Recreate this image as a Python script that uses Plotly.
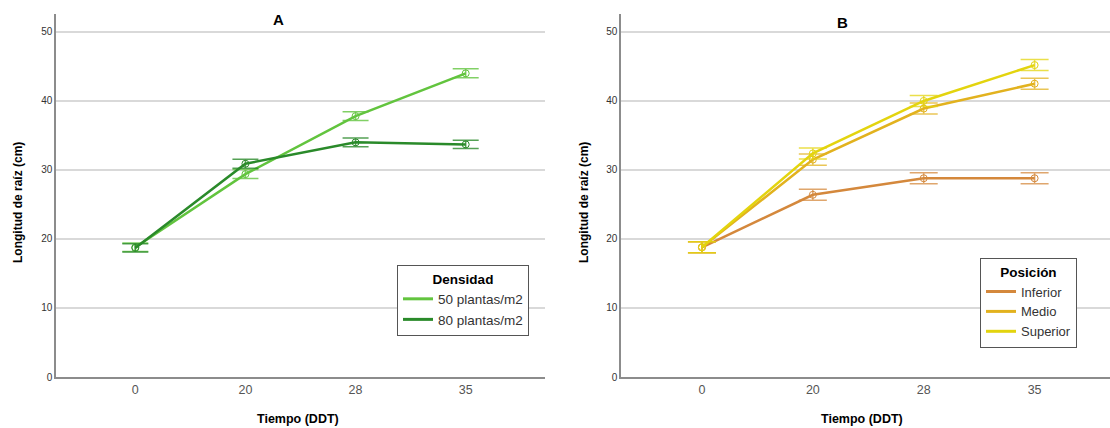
import plotly.graph_objects as go

categories = ["0", "20", "28", "35"]

# Panel A - Densidad
dens_names = ["50 plantas/m2", "80 plantas/m2"]
dens_means = [[18.8, 29.4, 37.8, 44.0], [18.7, 30.9, 34.0, 33.7]]
dens_err = [[0.6, 0.65, 0.65, 0.65], [0.6, 0.65, 0.65, 0.6]]
dens_colors = ["#62c43e", "#2a8a2a"]
dens_err_colors = ["rgba(98,196,62,0.8)", "rgba(42,138,42,0.8)"]

# Panel B - Posición
pos_names = ["Inferior", "Medio", "Superior"]
pos_means = [[18.8, 26.4, 28.8, 28.8], [18.8, 31.5, 38.9, 42.5], [18.8, 32.4, 40.0, 45.2]]
pos_err = [[0.8, 0.8, 0.8, 0.8], [0.8, 0.8, 0.8, 0.8], [0.8, 0.8, 0.8, 0.8]]
pos_colors = ["#d4883c", "#e2b21e", "#e3d40e"]
pos_err_colors = ["rgba(212,136,60,0.75)", "rgba(226,178,30,0.75)", "rgba(227,212,14,0.75)"]

W, H = 1110, 428
ML, MR, MT, MB = 40, 0, 6, 40
PW, PH = W - ML - MR, H - MT - MB


def fx(px):
    return (px - ML) / PW


def fy(py):
    return (H - MB - py) / PH


fig = go.Figure()

for i, (name, m, e, c, ec) in enumerate(zip(dens_names, dens_means, dens_err, dens_colors, dens_err_colors)):
    fig.add_trace(go.Scatter(
        x=categories, y=m, name=name, mode="lines+markers", showlegend=False,
        line=dict(color=c, width=2.5),
        marker=dict(symbol="circle-open", size=7, color=c, line=dict(width=1)),
        error_y=dict(type="data", array=e, color=ec, thickness=1.5, width=13),
        xaxis="x", yaxis="y",
    ))
    fig.add_trace(go.Scatter(
        x=[None], y=[None], name=name, mode="lines", showlegend=True,
        line=dict(color=c, width=3), xaxis="x", yaxis="y", legend="legend",
    ))

for i, (name, m, e, c, ec) in enumerate(zip(pos_names, pos_means, pos_err, pos_colors, pos_err_colors)):
    fig.add_trace(go.Scatter(
        x=categories, y=m, name=name, mode="lines+markers", showlegend=False,
        line=dict(color=c, width=2.5),
        marker=dict(symbol="circle-open", size=7, color=c, line=dict(width=1)),
        error_y=dict(type="data", array=e, color=ec, thickness=1.5, width=14),
        xaxis="x2", yaxis="y2",
    ))
    fig.add_trace(go.Scatter(
        x=[None], y=[None], name=name, mode="lines", showlegend=True,
        line=dict(color=c, width=3), xaxis="x2", yaxis="y2", legend="legend2",
    ))

ytop, ybot = 14, 377
yd = [fy(ybot), fy(ytop)]

axis_common_y = dict(
    range=[0, 52.6], tickvals=[0, 10, 20, 30, 40, 50],
    showgrid=True, gridcolor="#d9d9d9", gridwidth=1.5,
    showline=True, linecolor="#8c8c8c", linewidth=1.5,
    zeroline=False, ticks="", tickfont=dict(size=10, color="#333333"),
    domain=yd, fixedrange=True, automargin=False,
)
axis_common_x = dict(
    type="category", showgrid=False, zeroline=False,
    showline=True, linecolor="#8c8c8c", linewidth=1.5,
    ticks="", tickfont=dict(size=12.5, color="#555555"), automargin=False,
)


def ann(text, px, py, size, angle=0):
    return dict(text=text, x=fx(px), y=fy(py), xref="paper", yref="paper",
                xanchor="center", yanchor="middle", showarrow=False,
                textangle=angle, font=dict(size=size))


fig.update_layout(
    width=W, height=H,
    margin=dict(l=ML, r=MR, t=MT, b=MB, autoexpand=False),
    paper_bgcolor="white", plot_bgcolor="white",
    font=dict(family="Liberation Sans, Arial, sans-serif", color="#000000"),
    showlegend=True,
    xaxis=dict(domain=[fx(56), fx(545)], range=[-0.72, 3.72], anchor="y", **axis_common_x),
    yaxis=dict(anchor="x", **axis_common_y),
    xaxis2=dict(domain=[fx(621), 1.0], range=[-0.73, 3.68], anchor="y2", **axis_common_x),
    yaxis2=dict(anchor="x2", **axis_common_y),
    legend=dict(
        x=fx(397), y=fy(265), xanchor="left", yanchor="top",
        bordercolor="#555555", borderwidth=1, bgcolor="white",
        font=dict(size=13.5, color="#333333"),
        title=dict(text="<b>Densidad</b>", side="top center", font=dict(size=13.5, color="#000")),
        itemwidth=30, tracegroupgap=0,
    ),
    legend2=dict(
        x=fx(980), y=fy(258), xanchor="left", yanchor="top",
        bordercolor="#555555", borderwidth=1, bgcolor="white",
        font=dict(size=13, color="#333333"),
        title=dict(text="<b>Posición</b>", side="top center", font=dict(size=13.5, color="#000")),
        itemwidth=30, tracegroupgap=0,
    ),
    annotations=[
        ann("<b>A</b>", 278, 20, 15),
        ann("<b>B</b>", 842, 22, 15),
        ann("<b>Longitud de raíz (cm)</b>", 18, 203, 12, -90),
        ann("<b>Longitud de raíz (cm)</b>", 584, 203, 12, -90),
        ann("<b>Tiempo (DDT)</b>", 298, 419, 12.5),
        ann("<b>Tiempo (DDT)</b>", 862, 419, 12.5),
    ],
)

fig.write_html("out.html", config={"displayModeBar": False},
               post_script="document.body.style.margin='0';")
